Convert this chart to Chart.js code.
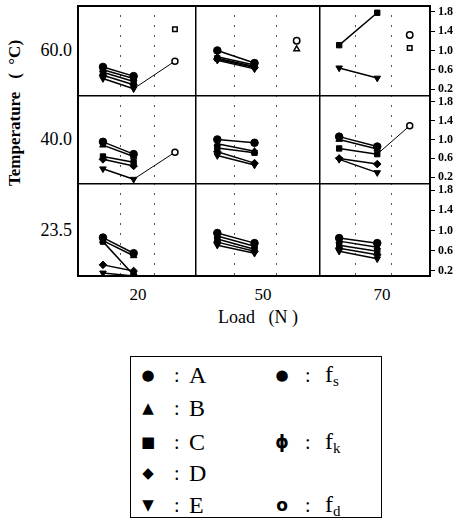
<!DOCTYPE html>
<html>
<head>
<meta charset="utf-8">
<script src="https://cdn.jsdelivr.net/npm/chart.js@4.4.0/dist/chart.umd.min.js"></script>
<style>
body { margin:0; width:457px; height:520px; position:relative; overflow:hidden; background:#fff; font-family:"Liberation Serif", "Times New Roman", serif; color:#000; }
canvas { position:absolute; }
.frame { position:absolute; left:77px; top:5px; width:354px; height:272px; border:2px solid #000; box-sizing:border-box; pointer-events:none; z-index:2; }
.t { position:absolute; white-space:nowrap; line-height:1; }
.row { font-size:18px; transform:translate(-100%, -50%); }
.load { font-size:17px; transform:translate(-50%, -50%); }
.ytitle { font-size:17px; font-weight:bold; left:14px; top:113px; transform:translate(-50%, -50%) rotate(-90deg); }
.legend { position:absolute; left:130px; top:356px; width:252px; height:162px; border:1.5px solid #000; box-sizing:border-box; }
.lg { position:absolute; white-space:nowrap; line-height:1; transform:translate(-50%, -50%); }
.sym { font-family:"DejaVu Sans", sans-serif; font-size:15px; }
.txt { font-size:24px; transform:translate(0, -50%); }
.txt sub { font-size:15px; vertical-align:-4px; }
</style>
</head>
<body>
<div class="frame"></div>
<div class="t ytitle">Temperature &nbsp;&nbsp;( &nbsp;°C)</div>
<div id="labels"></div>
<div class="t" style="font-size:18px; left:218px; top:317px; transform:translate(0,-50%)">Load&nbsp;&nbsp;&nbsp;(N&nbsp;)</div>
<div id="legend"></div>
<script>
// row / column labels
const temps = ['60.0', '40.0', '23.5'];
const loads = ['20', '50', '70'];
const seriesNames = ['A', 'B', 'C', 'D', 'E'];

// right axis
const yMarks = [0.2, 0.4, 0.6, 0.8, 1.0, 1.2, 1.4, 1.6, 1.8];
const yLabels = [0.2, 0.6, 1.0, 1.4, 1.8];

// x positions inside each column panel (0..1)
const xPair = [[0.22, 0.48], [0.18, 0.48], [0.18, 0.52]];
const xExtra = [0.83, 0.82, 0.81];
const xDots = [[0.37, 0.66], [0.32, 0.66], [0.33, 0.65]];

// fs: [left, right] for series A..E
const fs60_20 = [[0.66, 0.47], [0.60, 0.42], [0.55, 0.36], [0.49, 0.29], [0.42, 0.21]];
const fs60_50 = [[1.00, 0.74], [0.87, 0.70], [0.84, 0.67], [0.82, 0.65], [0.80, 0.62]];
const fs60_70 = [[null, null], [null, null], [1.11, 1.78], [null, null], [0.64, 0.43]];
const fs40_20 = [[0.95, 0.69], [0.88, 0.64], [0.64, 0.52], [0.58, 0.44], [0.38, 0.16]];
const fs40_50 = [[1.00, 0.93], [0.91, 0.75], [0.82, 0.72], [0.74, 0.50], [0.66, 0.46]];
const fs40_70 = [[1.06, 0.85], [1.00, 0.80], [0.81, 0.69], [0.60, 0.48], [0.58, 0.30]];
const fs23_20 = [[0.86, 0.55], [0.80, 0.50], [0.78, 0.12], [0.32, 0.20], [0.16, 0.10]];
const fs23_50 = [[0.95, 0.75], [0.89, 0.69], [0.83, 0.63], [0.77, 0.59], [0.71, 0.55]];
const fs23_70 = [[0.85, 0.75], [0.79, 0.67], [0.71, 0.59], [0.65, 0.52], [0.59, 0.44]];

// fk: [start, end] thin line ending with an open circle
const fk60_20 = [0.21, 0.78];
const fk40_20 = [0.16, 0.73];
const fk40_70 = [0.69, 1.29];

// fd: open markers, per series A..E
const fd60_20 = [null, null, 1.44, null, null];
const fd60_50 = [1.20, 1.03, null, null, null];
const fd60_70 = [1.32, null, 1.05, null, null];

const fsGrid = [[fs60_20, fs60_50, fs60_70], [fs40_20, fs40_50, fs40_70], [fs23_20, fs23_50, fs23_70]];
const fkGrid = [[fk60_20, null, null], [fk40_20, null, fk40_70], [null, null, null]];
const fdGrid = [[fd60_20, fd60_50, fd60_70], [null, null, null], [null, null, null]];

const shapes = ['circle', 'triangle', 'rect', 'rectRot', 'triangle'];
const rotations = [0, 0, 0, 0, 180];

const colLeft = [77, 195, 319], colW = [118, 124, 112];
const rowTop = [5, 95, 183], rowH = [90, 88, 94];
const axisW = 26;

Chart.defaults.font.family = '"Liberation Serif", serif';
Chart.defaults.color = '#000';

const panelLines = {
    id: 'panelLines',
    afterDraw(chart, args, opts) {
        const { ctx, chartArea: a } = chart;
        ctx.save();
        ctx.strokeStyle = '#000';
        ctx.lineWidth = 1.5;
        ctx.beginPath();
        if (opts.left) { ctx.moveTo(a.left + 0.75, a.top); ctx.lineTo(a.left + 0.75, a.bottom); }
        if (opts.top) { ctx.moveTo(a.left, a.top + 0.75); ctx.lineTo(a.right, a.top + 0.75); }
        ctx.stroke();
        ctx.restore();
    }
};

function makePanel(row, col) {
    const canvas = document.createElement('canvas');
    const hasAxis = col === 2;
    const w = colW[col] + (hasAxis ? axisW : 0);
    const h = rowH[row];
    canvas.width = w;
    canvas.height = h;
    canvas.style.left = colLeft[col] + 'px';
    canvas.style.top = rowTop[row] + 'px';
    canvas.style.width = w + 'px';
    canvas.style.height = h + 'px';
    document.body.appendChild(canvas);

    const datasets = [];
    fsGrid[row][col].forEach((pair, i) => {
        if (pair[0] == null) return;
        datasets.push({
            data: [{ x: xPair[col][0], y: pair[0] }, { x: xPair[col][1], y: pair[1] }],
            showLine: true,
            borderColor: '#000',
            borderWidth: 1.5,
            pointStyle: shapes[i],
            pointRotation: rotations[i],
            pointRadius: 3.8,
            pointBackgroundColor: '#000',
            pointBorderColor: '#000',
            pointBorderWidth: 1
        });
    });

    const fk = fkGrid[row][col];
    if (fk) {
        datasets.push({
            data: [{ x: xPair[col][1], y: fk[0] }, { x: xExtra[col], y: fk[1] }],
            showLine: true,
            borderColor: '#000',
            borderWidth: 1,
            pointStyle: 'circle',
            pointRadius: [0, 3],
            pointBackgroundColor: '#fff',
            pointBorderColor: '#000',
            pointBorderWidth: 1.5
        });
    }

    const fd = fdGrid[row][col];
    if (fd) {
        fd.forEach((v, i) => {
            if (v == null) return;
            datasets.push({
                data: [{ x: xExtra[col], y: v }],
                pointStyle: shapes[i],
                pointRotation: rotations[i],
                pointRadius: 3.2,
                pointBackgroundColor: '#fff',
                pointBorderColor: '#000',
                pointBorderWidth: 1.5
            });
        });
    }

    new Chart(canvas, {
        type: 'scatter',
        data: { datasets },
        options: {
            responsive: false,
            animation: false,
            events: [],
            layout: { padding: 0, autoPadding: false },
            plugins: {
                legend: { display: false },
                tooltip: { enabled: false },
                panelLines: { left: col > 0, top: row > 0 }
            },
            scales: {
                x: {
                    type: 'linear', min: 0, max: 1,
                    afterBuildTicks: s => { s.ticks = xDots[col].map(v => ({ value: v })); },
                    afterFit: s => { s.height = 0; s.paddingLeft = 0; s.paddingRight = 0; },
                    ticks: { display: false },
                    grid: { color: '#555', lineWidth: 1, drawTicks: false },
                    border: { display: false, dash: [2, 8] }
                },
                y: {
                    type: 'linear', min: 0.08, max: 1.94,
                    display: hasAxis,
                    position: 'right',
                    afterBuildTicks: s => { s.ticks = yMarks.map(v => ({ value: v })); },
                    afterFit: s => { s.width = hasAxis ? axisW : 0; s.paddingTop = 0; s.paddingBottom = 0; },
                    ticks: {
                        autoSkip: false,
                        padding: 3,
                        font: { size: 12, weight: 'bold' },
                        callback: v => yLabels.some(l => Math.abs(l - v) < 1e-6) ? v.toFixed(1) : null
                    },
                    grid: { drawOnChartArea: false, tickLength: 4, color: '#000', lineWidth: 1 },
                    border: { display: false }
                }
            }
        },
        plugins: [panelLines]
    });
}

for (let r = 0; r < 3; r++) for (let c = 0; c < 3; c++) makePanel(r, c);

// row and column labels
const labelBox = document.getElementById('labels');
temps.forEach((t, r) => {
    const d = document.createElement('div');
    d.className = 't row';
    d.style.left = '72px';
    d.style.top = (rowTop[r] + rowH[r] / 2) + 'px';
    d.textContent = t;
    labelBox.appendChild(d);
});
const loadX = [138, 263, 382];
loads.forEach((l, c) => {
    const d = document.createElement('div');
    d.className = 't load';
    d.style.left = loadX[c] + 'px';
    d.style.top = '294px';
    d.textContent = l;
    labelBox.appendChild(d);
});

// legend
const legendBox = document.getElementById('legend');
const legendSyms = ['\u25CF', '\u25B2', '\u25A0', '\u25C6', '\u25BC'];
const legendY = [375, 408, 442, 473, 505];
function put(cls, x, y, html, style) {
    const d = document.createElement('div');
    d.className = 'lg ' + cls;
    d.style.left = x + 'px';
    d.style.top = y + 'px';
    if (style) d.style.cssText += style;
    d.innerHTML = html;
    legendBox.appendChild(d);
}
legendBox.innerHTML = '<div class="legend"></div>';
seriesNames.forEach((n, i) => {
    put('sym', 148, legendY[i], legendSyms[i]);
    put('txt', 174, legendY[i], ':', 'font-size:20px');
    put('txt', 189, legendY[i], n);
});
const fTypes = [['\u25CF', 's', 0], ['\u03D5', 'k', 2], ['o', 'd', 4]];
fTypes.forEach(([sym, sub, i]) => {
    put('sym', 282, legendY[i], sym, i === 0 ? '' : 'font-weight:bold;font-size:17px');
    put('txt', 305, legendY[i], ':', 'font-size:20px');
    put('txt', 325, legendY[i], 'f<sub>' + sub + '</sub>');
});
</script>
</body>
</html>
